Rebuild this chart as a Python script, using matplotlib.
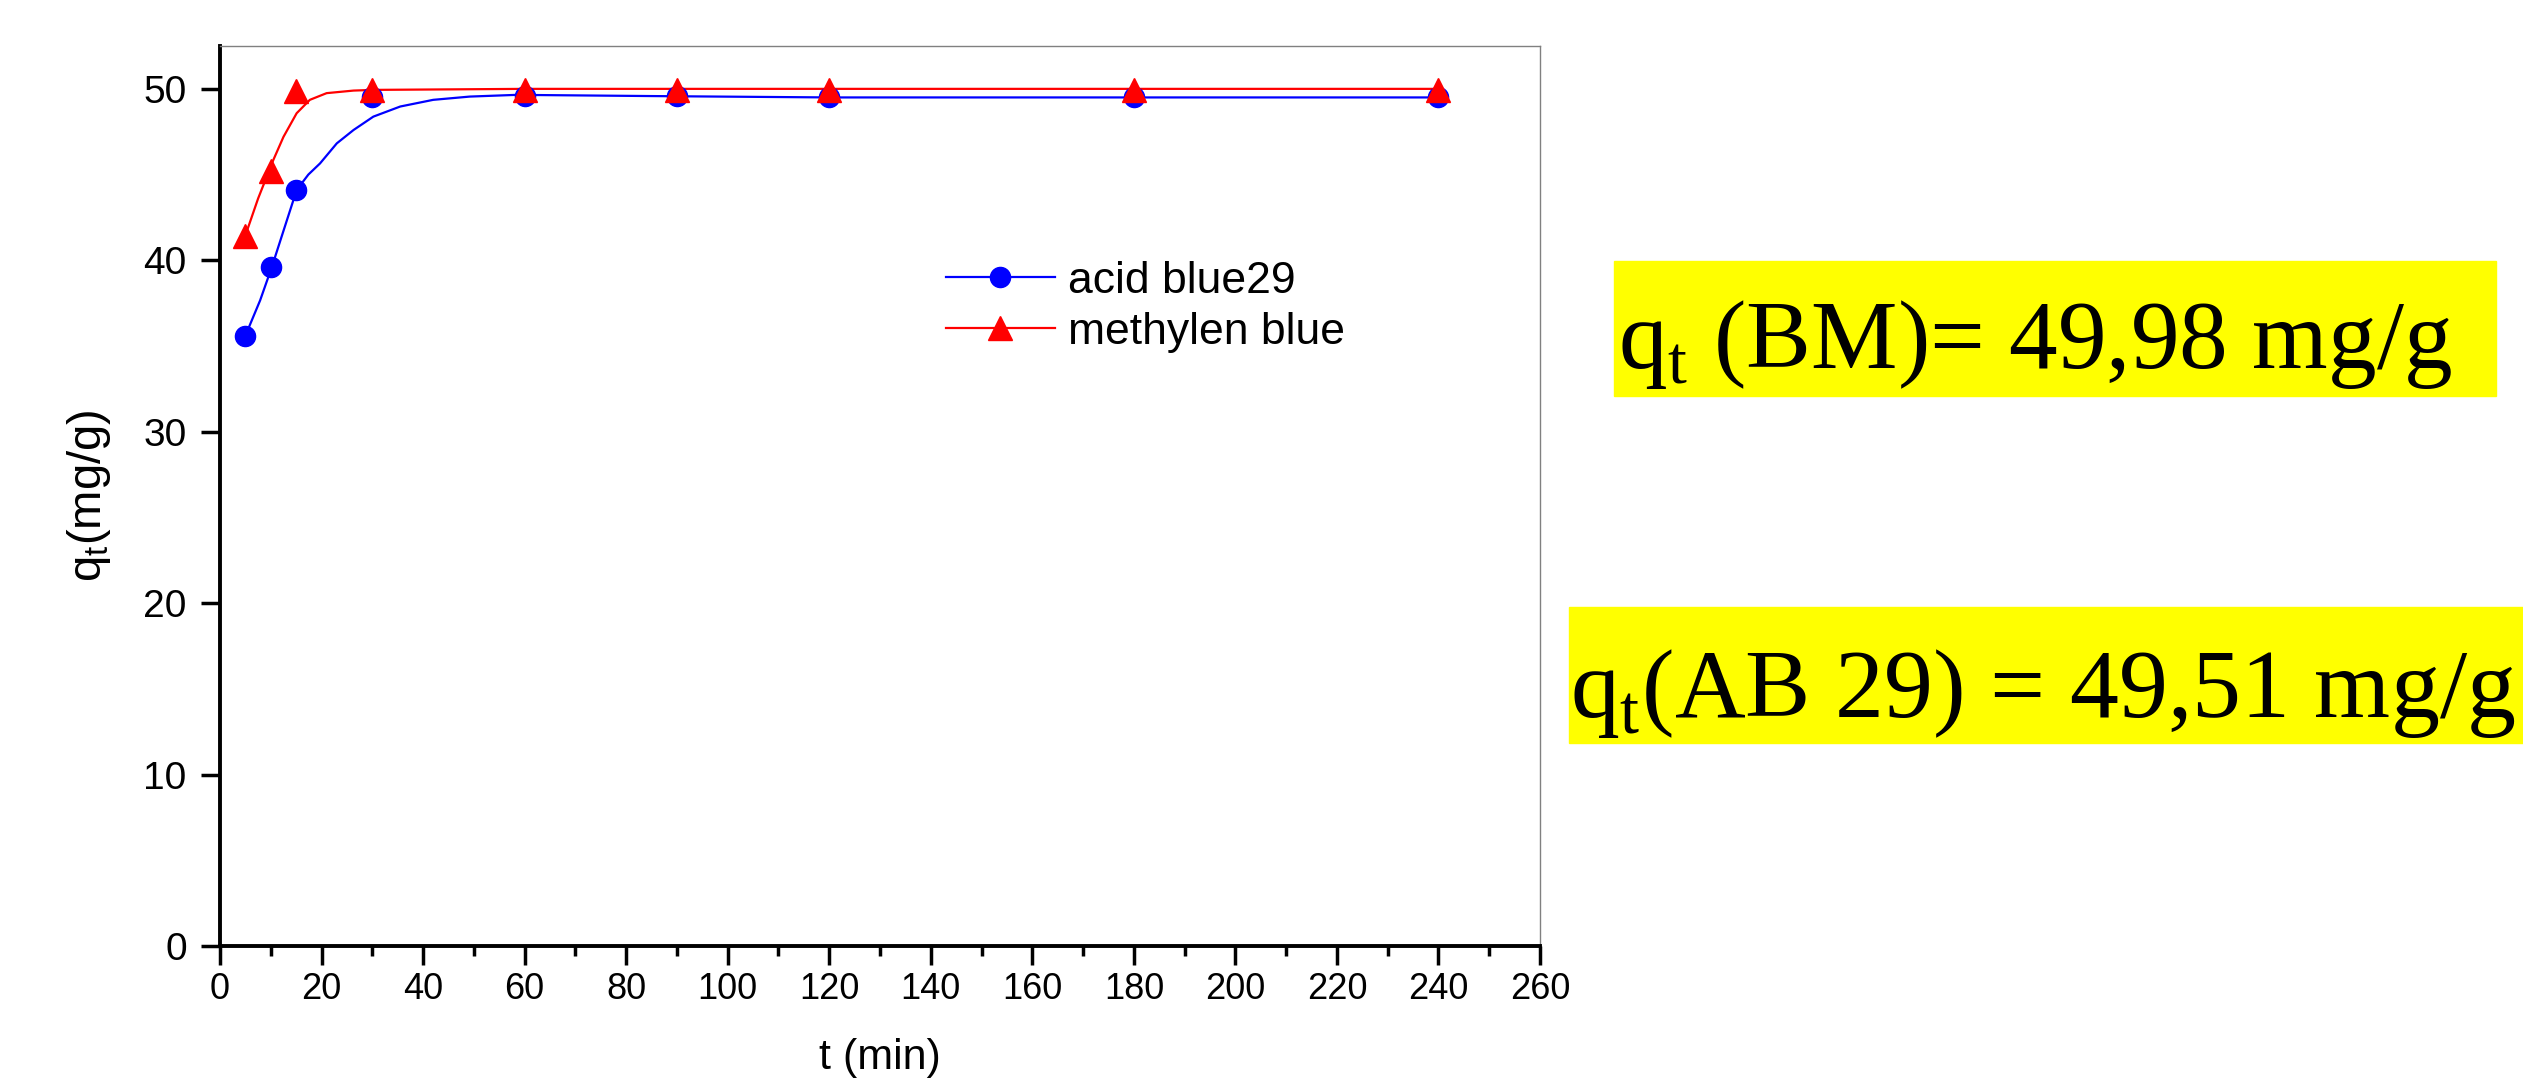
import matplotlib.pyplot as plt
from matplotlib.patches import Rectangle

plt.rcParams['font.family'] = ['Liberation Sans', 'DejaVu Sans']
plt.rcParams['mathtext.fontset'] = 'custom'
plt.rcParams['mathtext.rm'] = 'Liberation Sans'

# measured points
t = [5, 10, 15, 30, 60, 90, 120, 180, 240]
q_ab29 = [35.6, 39.6, 44.1, 49.5, 49.6, 49.6, 49.5, 49.5, 49.5]
q_mb = [41.4, 45.2, 49.9, 49.95, 49.95, 49.95, 49.95, 49.95, 49.95]

# fitted curves
fit_t_ab = [5, 7.9, 10.2, 12.7, 15.1, 17.4, 19.7, 23.0, 26.3, 30.2, 35.5, 42.0, 49.2, 58.4,
            85, 120, 180, 240]
fit_q_ab = [35.6, 37.66, 39.6, 41.9, 44.1, 45.0, 45.65, 46.82, 47.6, 48.38, 48.97, 49.36,
            49.55, 49.65, 49.58, 49.5, 49.5, 49.5]
fit_t_mb = [5, 7.5, 10.5, 12.5, 15.1, 17.7, 21.0, 26.3, 30.2, 60, 240]
fit_q_mb = [41.45, 43.6, 45.85, 47.2, 48.58, 49.36, 49.75, 49.9, 49.94, 50.0, 50.0]

labels = ['acid blue29', 'methylen blue']
notes = [r'q$_\mathregular{t}$ (BM)= 49,98 mg/g', r'q$_\mathregular{t}$(AB 29) = 49,51 mg/g']

fig = plt.figure(figsize=(25.23, 10.8), dpi=100)
ax = fig.add_axes([0.0872, 0.1241, 0.5232, 0.8333])

# lines + markers
ax.plot(fit_t_ab, fit_q_ab, color='blue', lw=1.6)
ax.plot(fit_t_mb, fit_q_mb, color='red', lw=1.6)
ax.plot(t, q_ab29, 'o', color='blue', ms=14.5)
ax.plot(t, q_mb, '^', color='red', ms=17)

# legend proxies
h1, = ax.plot([], [], '-o', color='blue', lw=1.6, ms=14.5)
h2, = ax.plot([], [], '-^', color='red', lw=1.6, ms=17)
ax.legend([h1, h2], labels, loc='upper left', bbox_to_anchor=(946 / 2523, 1 - 261 / 1080),
          bbox_transform=fig.transFigure, frameon=False, fontsize=32,
          handlelength=2.45, handletextpad=0.3, labelspacing=0.22, borderpad=0, borderaxespad=0)

ax.set_xlim(0, 260)
ax.set_ylim(0, 52.5)
ax.set_xticks(range(0, 261, 20))
ax.set_xticks(range(10, 260, 20), minor=True)
ax.set_yticks(range(0, 51, 10))
ax.tick_params(axis='both', which='major', direction='out', length=14, width=2.5)
ax.tick_params(axis='x', which='major', labelsize=26, pad=5)
ax.tick_params(axis='y', which='major', labelsize=28, pad=10)
ax.tick_params(axis='x', which='minor', direction='out', length=7, width=2.5)

for s in ['left', 'bottom']:
    ax.spines[s].set_linewidth(2.8)
for s in ['top', 'right']:
    ax.spines[s].set_linewidth(1)
    ax.spines[s].set_color('#808080')

ax.set_xlabel('t (min)', fontsize=31, labelpad=22)
ax.set_ylabel(r'q$_\mathregular{t}$(mg/g)', fontsize=34, labelpad=22)

# yellow note boxes
fig.patches.append(Rectangle((1614 / 2523, 1 - 396 / 1080), 882 / 2523, 135 / 1080,
                             transform=fig.transFigure, color='yellow', zorder=0))
fig.patches.append(Rectangle((1569 / 2523, 1 - 743 / 1080), 954 / 2523, 136 / 1080,
                             transform=fig.transFigure, color='yellow', zorder=0))
fig.text(1618 / 2523, 1 - 368 / 1080, notes[0], fontsize=70, family='Liberation Serif',
         va='baseline', ha='left')
fig.text(1570 / 2523, 1 - 717 / 1080, notes[1], fontsize=70.5, family='Liberation Serif',
         va='baseline', ha='left')

plt.savefig('out.png', dpi=100)
